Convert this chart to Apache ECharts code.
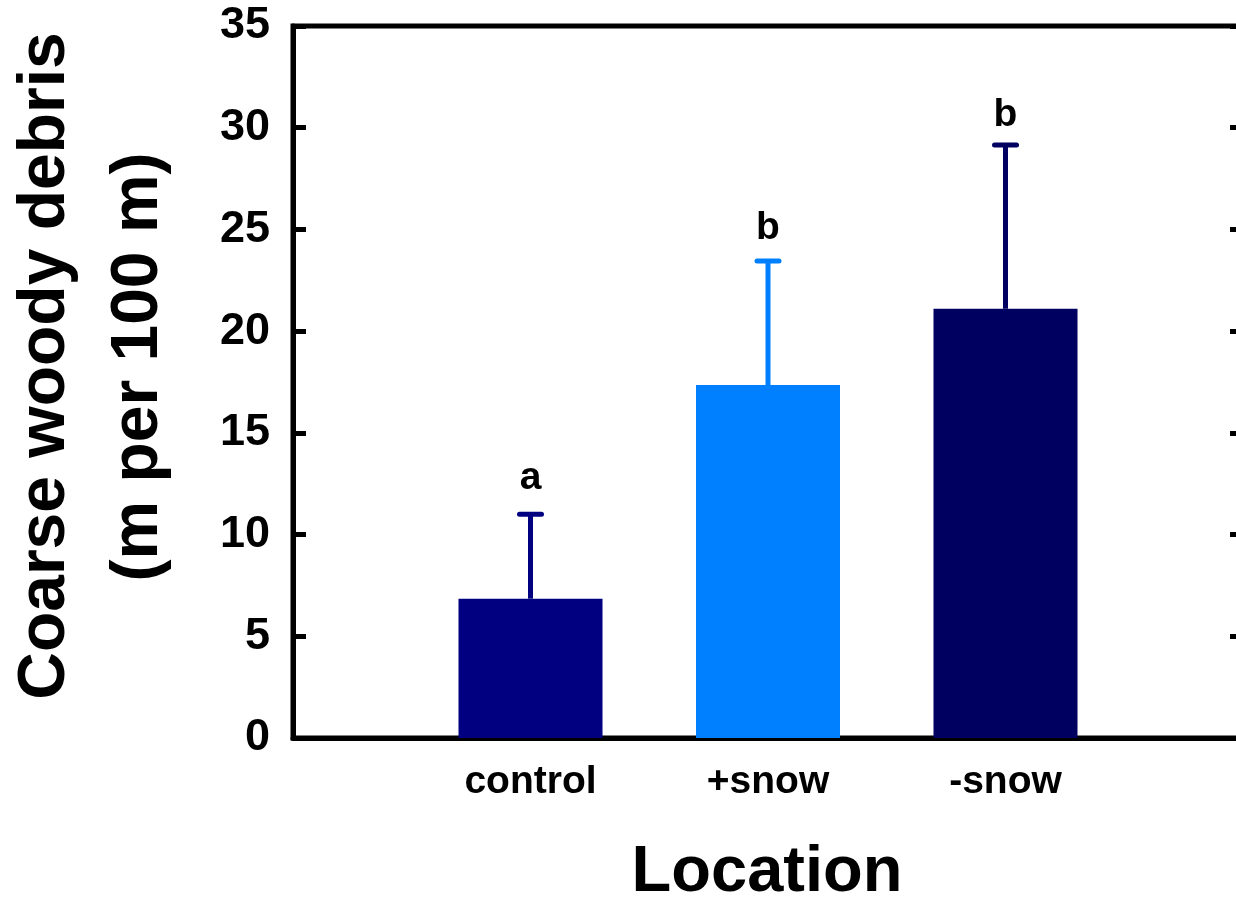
<!DOCTYPE html>
<html>
<head>
<meta charset="utf-8">
<script src="https://cdn.jsdelivr.net/npm/echarts@6/dist/echarts.min.js"></script>
<style>
html,body{margin:0;padding:0;background:#fff;overflow:hidden;width:1236px;height:904px;}
#chart{width:1250px;height:904px;}
</style>
</head>
<body>
<div id="chart"></div>
<script>
var categories = ['control', '+snow', '-snow'];
var means = [6.85, 17.35, 21.1];
var upperErr = [11.0, 23.45, 29.15];
var letters = ['a', 'b', 'b'];
var letterPos = [12.2, 24.5, 30.05];
var barColors = ['#000080', '#0080FF', '#000060'];
var yTicks = [0, 5, 10, 15, 20, 25, 30, 35];
var yTitleLines = ['Coarse woody debris', '(m per 100 m)'];
var xTitle = 'Location';

var FONT = '"Liberation Sans", Arial, Helvetica, sans-serif';
var axisCats = [''].concat(categories).concat(['']);

var chart = echarts.init(document.getElementById('chart'), null, {renderer: 'canvas'});

var barData = means.map(function (v, i) {
  return {value: v, itemStyle: {color: barColors[i]}};
});
var errData = means.map(function (v, i) {
  return [i + 1, v, upperErr[i], i, letterPos[i]];
});

var option = {
  backgroundColor: '#fff',
  animation: false,
  grid: {
    left: 293, right: 7, top: 26, bottom: 166,
    show: true, borderColor: '#000', borderWidth: 5, backgroundColor: 'transparent'
  },
  xAxis: {
    type: 'category',
    data: axisCats,
    boundaryGap: false,
    axisLine: {lineStyle: {color: '#000', width: 5}},
    axisTick: {show: false},
    splitLine: {show: false},
    axisLabel: {
      color: '#000', fontFamily: FONT, fontWeight: 'bold', fontSize: 39,
      margin: 25, interval: 0
    }
  },
  yAxis: [{
    type: 'value',
    min: yTicks[0], max: yTicks[yTicks.length - 1], interval: 5,
    position: 'left',
    axisLine: {show: true, lineStyle: {color: '#000', width: 5}},
    axisTick: {show: true, inside: true, length: 13, lineStyle: {color: '#000', width: 5}},
    splitLine: {show: false},
    axisLabel: {
      color: '#000', fontFamily: FONT, fontWeight: 'bold', fontSize: 45, margin: 23
    }
  }, {
    type: 'value',
    min: yTicks[0], max: yTicks[yTicks.length - 1], interval: 5,
    position: 'right',
    axisLine: {show: true, lineStyle: {color: '#000', width: 5}},
    axisTick: {show: true, inside: true, length: 13, lineStyle: {color: '#000', width: 5}},
    splitLine: {show: false},
    axisLabel: {show: false}
  }],
  series: [{
    type: 'bar',
    data: [null].concat(barData).concat([null]),
    barWidth: 144,
    yAxisIndex: 0
  }, {
    type: 'custom',
    yAxisIndex: 0,
    data: errData,
    renderItem: function (params, api) {
      var x = api.value(0);
      var base = api.coord([x, api.value(1)]);
      var top = api.coord([x, api.value(2)]);
      var lab = api.coord([x, api.value(4)]);
      var idx = api.value(3);
      var col = barColors[idx];
      var capHalf = 11;
      return {
        type: 'group',
        children: [{
          type: 'line',
          shape: {x1: base[0], y1: base[1], x2: top[0], y2: top[1]},
          style: {stroke: col, lineWidth: 5}
        }, {
          type: 'line',
          shape: {x1: top[0] - capHalf, y1: top[1], x2: top[0] + capHalf, y2: top[1]},
          style: {stroke: col, lineWidth: 5, lineCap: 'round'}
        }, {
          type: 'text',
          x: lab[0], y: lab[1] + 8,
          style: {
            text: letters[idx], fill: '#000', fontFamily: FONT, fontWeight: 'bold',
            fontSize: 39, align: 'center', verticalAlign: 'bottom'
          }
        }]
      };
    }
  }],
  graphic: [{
    type: 'text',
    x: 46, y: 366, rotation: Math.PI / 2,
    style: {
      text: yTitleLines[0], fill: '#000', fontFamily: FONT, fontWeight: 'bold',
      fontSize: 66, align: 'center', verticalAlign: 'middle'
    }
  }, {
    type: 'text',
    x: 139, y: 367, rotation: Math.PI / 2,
    style: {
      text: yTitleLines[1], fill: '#000', fontFamily: FONT, fontWeight: 'bold',
      fontSize: 66, align: 'center', verticalAlign: 'middle'
    }
  }, {
    type: 'text',
    x: 767, y: 873,
    style: {
      text: xTitle, fill: '#000', fontFamily: FONT, fontWeight: 'bold',
      fontSize: 65, align: 'center', verticalAlign: 'middle'
    }
  }]
};
chart.setOption(option);
</script>
</body>
</html>
